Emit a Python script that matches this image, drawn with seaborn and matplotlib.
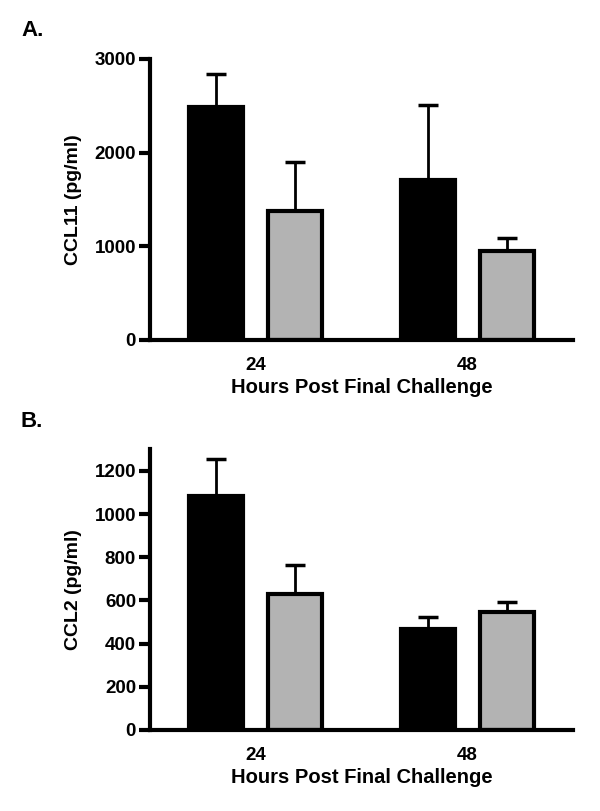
import pandas as pd
import numpy as np
import seaborn as sns
import matplotlib.pyplot as plt

sns.set_style("ticks")
plt.rcParams['font.family'] = ['Liberation Sans', 'DejaVu Sans']
plt.rcParams['font.weight'] = 'bold'
plt.rcParams.update({"text.color": "black", "axes.labelcolor": "black", "axes.edgecolor": "black",
                     "xtick.color": "black", "ytick.color": "black"})

hours = ["24", "48"]
groups = ["black", "gray"]

# panel A, CCL11
ccl11_mean = [[2490, 1380], [1710, 945]]   # [hour][group]
ccl11_sem = [[350, 520], [800, 145]]
# panel B, CCL2
ccl2_mean = [[1084, 632], [469, 547]]
ccl2_sem = [[170, 134], [54, 46]]

colors = {"black": "#000000", "gray": "#b3b3b3"}


def make_df(means, sems):
    rows = []
    for i, h in enumerate(hours):
        for j, g in enumerate(groups):
            rows.append({"hours": h, "group": g, "value": means[i][j], "sem": sems[i][j]})
    return pd.DataFrame(rows)


def draw_panel(ax, df, ylim, yticks, ylabel, letter):
    sns.barplot(data=df, x="hours", y="value", hue="group", order=hours, hue_order=groups,
                palette=colors, errorbar=None, width=0.75, gap=0.32,
                edgecolor="black", linewidth=3, legend=False, ax=ax, zorder=2)
    # upward-only error bars, placed on the drawn bars
    for patch, (_, row) in zip(ax.patches, df.sort_values(["group", "hours"]).iterrows()):
        cx = patch.get_x() + patch.get_width() / 2
        ax.errorbar(cx, row["value"], yerr=[[0], [row["sem"]]], fmt="none",
                    ecolor="black", elinewidth=2, capsize=7, capthick=2.5, zorder=1)
    ax.set_xlim(-0.5, 1.5)
    ax.set_ylim(*ylim)
    ax.set_yticks(yticks)
    ax.set_yticklabels([str(t) for t in yticks], fontsize=13.5, fontweight="bold")
    ax.set_xticks([0, 1])
    ax.set_xticklabels(hours, fontsize=13.5, fontweight="bold")
    ax.tick_params(axis="x", length=0, pad=12)
    ax.tick_params(axis="y", length=8, width=3, pad=2)
    ax.set_xlabel("Hours Post Final Challenge", fontsize=14.5, fontweight="bold", labelpad=3)
    ax.set_ylabel(ylabel, fontsize=14, fontweight="bold", labelpad=9)
    sns.despine(ax=ax)
    for s in ["left", "bottom"]:
        ax.spines[s].set_linewidth(3)
    ax.text(-0.305, 1.08, letter, transform=ax.transAxes, fontsize=16, fontweight="bold")


fig = plt.figure(figsize=(6, 8.11), dpi=100)
ax1 = fig.add_axes([0.25, 0.5808, 0.705, 0.3465])
ax2 = fig.add_axes([0.25, 0.0999, 0.705, 0.3461])

draw_panel(ax1, make_df(ccl11_mean, ccl11_sem), (0, 3000), [0, 1000, 2000, 3000], "CCL11 (pg/ml)", "A.")
draw_panel(ax2, make_df(ccl2_mean, ccl2_sem), (0, 1300), [0, 200, 400, 600, 800, 1000, 1200], "CCL2 (pg/ml)", "B.")

fig.savefig("out.png", dpi=100)
